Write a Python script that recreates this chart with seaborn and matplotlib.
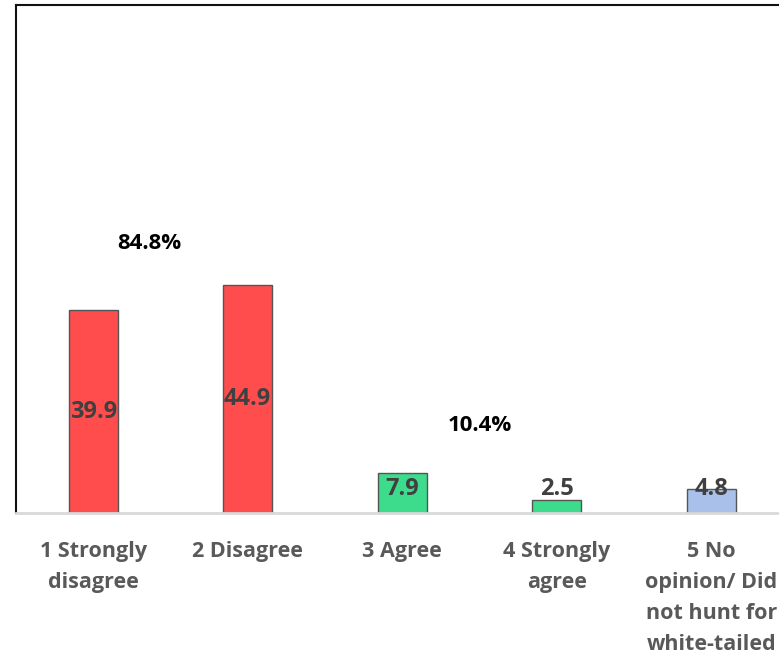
import matplotlib
matplotlib.use("Agg")
import matplotlib.pyplot as plt
import seaborn as sns
import pandas as pd

categories = ["1 Strongly\ndisagree", "2 Disagree", "3 Agree", "4 Strongly\nagree",
              "5 No\nopinion/ Did\nnot hunt for\nwhite-tailed\ndeer"]
values = [39.9, 44.9, 7.9, 2.5, 4.8]
bar_colors = ["#FF4D4D", "#FF4D4D", "#3DDC8C", "#3DDC8C", "#A8C0EA"]
group_labels = ["84.8%", "10.4%"]

sns.set_theme(style="white")
plt.rcParams['font.family'] = ['Open Sans', 'DejaVu Sans']

df = pd.DataFrame({"cat": categories, "val": values})

fig = plt.figure(figsize=(7.79, 6.6), dpi=100)
ax = fig.add_axes([16/779, 147/660, 772.5/779, 508/660])
sns.barplot(data=df, x="cat", y="val", hue="cat", palette=bar_colors, width=0.32,
            edgecolor="#555555", linewidth=1.0, legend=False, ax=ax, saturation=1)
ax.set_xlim(-0.5, 4.5)
ax.set_ylim(0, 100)
ax.set_xlabel("")
ax.set_ylabel("")
ax.set_yticks([])
ax.tick_params(axis="x", length=0, pad=20)
for lab in ax.get_xticklabels():
    lab.set_fontsize(15.5)
    lab.set_fontweight("bold")
    lab.set_color("#595959")
    lab.set_linespacing(1.62)
    lab.set_verticalalignment("top")

for sp in ["left", "top", "right"]:
    ax.spines[sp].set_color("#111111")
    ax.spines[sp].set_linewidth(1.5)
ax.spines["bottom"].set_color("#D9D9D9")
ax.spines["bottom"].set_linewidth(2)

for i, v in enumerate(values):
    ax.text(i, max(v / 2, 4.7), f"{v:.1f}", ha="center", va="center",
            fontsize=17, fontweight="bold", color="#404040")

ax.text(0.36, 53, group_labels[0], ha="center", va="center", fontsize=16,
        fontweight="bold", color="black")
ax.text(2.5, 17.3, group_labels[1], ha="center", va="center", fontsize=16,
        fontweight="bold", color="black")

fig.savefig("out.png", dpi=100)
